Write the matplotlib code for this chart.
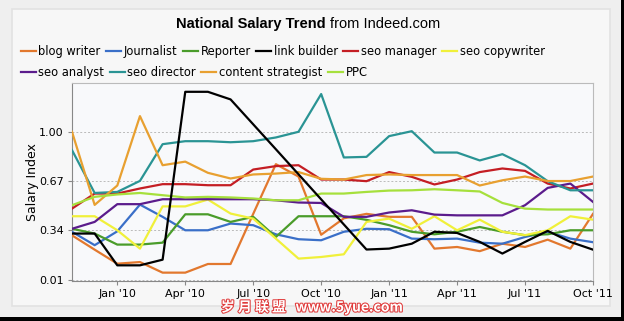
import numpy as np
import matplotlib.pyplot as plt
from matplotlib.patches import Rectangle
import matplotlib.patheffects as pe

# monthly points, Nov '09 .. Oct '11
months = ['Nov 09', 'Dec 09', 'Jan 10', 'Feb 10', 'Mar 10', 'Apr 10', 'May 10', 'Jun 10',
          'Jul 10', 'Aug 10', 'Sep 10', 'Oct 10', 'Nov 10', 'Dec 10', 'Jan 11', 'Feb 11',
          'Mar 11', 'Apr 11', 'May 11', 'Jun 11', 'Jul 11', 'Aug 11', 'Sep 11', 'Oct 11']

blog_writer = [0.306, 0.21, 0.116, 0.127, 0.056, 0.056, 0.114, 0.114, 0.45, 0.783, 0.70, 0.31,
               0.42, 0.45, 0.43, 0.43, 0.217, 0.228, 0.20, 0.25, 0.228, 0.277, 0.217, 0.45]
journalist = [0.33, 0.24, 0.333, 0.512, 0.43, 0.34, 0.34, 0.385, 0.374, 0.313, 0.28, 0.273,
              0.33, 0.35, 0.347, 0.284, 0.28, 0.284, 0.257, 0.25, 0.295, 0.33, 0.284, 0.26]
reporter = [0.35, 0.318, 0.244, 0.244, 0.257, 0.447, 0.447, 0.396, 0.43, 0.295, 0.434, 0.434,
            0.434, 0.41, 0.374, 0.33, 0.313, 0.33, 0.362, 0.33, 0.307, 0.313, 0.34, 0.34]
link_builder = [0.318, 0.318, 0.105, 0.105, 0.143, 1.268, 1.268, 1.217, 1.05, 0.883, 0.715, 0.547,
                0.379, 0.211, 0.217, 0.25, 0.33, 0.322, 0.262, 0.184, 0.262, 0.336, 0.262, 0.21]
seo_manager = [0.485, 0.586, 0.586, 0.62, 0.649, 0.649, 0.642, 0.642, 0.747, 0.77, 0.776, 0.68,
               0.68, 0.669, 0.73, 0.698, 0.647, 0.68, 0.73, 0.754, 0.738, 0.653, 0.62, 0.653]
seo_copywriter = [0.434, 0.434, 0.34, 0.217, 0.50, 0.50, 0.546, 0.452, 0.418, 0.284, 0.15, 0.161,
                  0.179, 0.396, 0.418, 0.35, 0.434, 0.34, 0.411, 0.33, 0.307, 0.34, 0.434, 0.411]
seo_analyst = [0.35, 0.396, 0.515, 0.515, 0.548, 0.548, 0.548, 0.548, 0.548, 0.541, 0.526, 0.523,
               0.43, 0.43, 0.459, 0.474, 0.445, 0.44, 0.44, 0.44, 0.508, 0.624, 0.653, 0.53]
seo_director = [0.877, 0.59, 0.597, 0.671, 0.917, 0.937, 0.937, 0.93, 0.937, 0.962, 1.00, 1.253,
                0.828, 0.832, 0.971, 1.004, 0.861, 0.861, 0.808, 0.85, 0.776, 0.669, 0.608, 0.608]
content_strategist = [1.00, 0.51, 0.64, 1.105, 0.776, 0.80, 0.725, 0.687, 0.714, 0.72, 0.73, 0.685,
                      0.68, 0.71, 0.714, 0.71, 0.71, 0.71, 0.64, 0.675, 0.70, 0.67, 0.67, 0.70]
ppc = [0.508, 0.564, 0.58, 0.59, 0.575, 0.56, 0.564, 0.56, 0.553, 0.541, 0.541, 0.586,
       0.586, 0.597, 0.606, 0.608, 0.615, 0.608, 0.6, 0.523, 0.485, 0.479, 0.479, 0.479]

series = [
    ('blog writer', blog_writer, '#e2782e'),
    ('Journalist', journalist, '#3a6fc8'),
    ('Reporter', reporter, '#4a9c2a'),
    ('link builder', link_builder, '#000000'),
    ('seo manager', seo_manager, '#c41e24'),
    ('seo copywriter', seo_copywriter, '#f0f03a'),
    ('seo analyst', seo_analyst, '#5b1c8c'),
    ('seo director', seo_director, '#2a9494'),
    ('content strategist', content_strategist, '#e8a030'),
    ('PPC', ppc, '#a6e03c'),
]

tick_pos = [2, 5, 8, 11, 14, 17, 20, 23]
tick_labels = ["Jan '10", "Apr '10", "Jul '10", "Oct '10", "Jan '11", "Apr '11", "Jul '11", "Oct '11"]
y_ticks = [0.01, 0.34, 0.67, 1.00]

plt.rcParams['font.family'] = 'DejaVu Sans'
fig = plt.figure(figsize=(6.24, 3.21), dpi=100)
fig.set_facecolor('#efefef')

# inner panel and the dark frame at the edges
fig.patches.append(Rectangle((12/624, 1-306/321), 598/624, 297/321, transform=fig.transFigure,
                             facecolor='#f7f7f7', edgecolor='#e2e2e2', lw=1.2, zorder=-2))
fig.patches.append(Rectangle((621/624, 0), 3/624, 1, transform=fig.transFigure,
                             facecolor='black', edgecolor='none', zorder=-1))
fig.patches.append(Rectangle((0, 0), 1, 4/321, transform=fig.transFigure,
                             facecolor='black', edgecolor='none', zorder=-1))

ax = fig.add_axes([72/624, 1-281/321, 521/624, 198/321])
ax.set_facecolor('#f8f9fb')
x = np.arange(len(months))
handles = []
for name, vals, col in series:
    z = 4 if name == 'link builder' else 3
    h, = ax.plot(x, vals, color=col, lw=1.6, label=name, zorder=z)
    handles.append(h)

ax.set_xlim(0, len(months) - 1)
ax.set_ylim(0.0, 1.327)
ax.set_xticks(tick_pos)
ax.set_xticklabels(tick_labels, fontsize=8)
ax.set_yticks(y_ticks)
ax.set_yticklabels(['{:.2f}'.format(v) for v in y_ticks], fontsize=8)
ax.tick_params(length=3, color='#888888', pad=3)
ax.grid(True, axis='y', ls=(0, (2, 2)), color='#bbbbbb', lw=0.7, zorder=1)
for s in ax.spines.values():
    s.set_color('#bbbbbb')
ax.spines['left'].set_color('#888888')
ax.spines['bottom'].set_color('#888888')
ax.set_ylabel('Salary Index', fontsize=9, labelpad=0)

fig.text(326/624, 1-24/321, 'National Salary Trend', fontsize=10.5, fontweight='bold',
         family='Liberation Sans', ha='right', va='center')
fig.text(330/624, 1-24/321, 'from Indeed.com', fontsize=10.5, family='Liberation Sans',
         ha='left', va='center')

leg_kw = dict(loc='upper left', frameon=False, fontsize=8.3, handlelength=1.3,
              handletextpad=0.25, columnspacing=0.45, borderaxespad=0)
fig.legend(handles=handles[:6], ncol=6, bbox_to_anchor=(16/624, 1-40/321), **leg_kw)
fig.legend(handles=handles[6:], ncol=4, bbox_to_anchor=(16/624, 1-61/321), **leg_kw)

fig.text(312/624, 1-307/321, '岁 月 联 盟   www.5yue.com', family=['Noto Sans CJK SC', 'DejaVu Sans'],
         fontsize=10, fontweight='bold', color='white', ha='center', va='center',
         path_effects=[pe.withStroke(linewidth=1.5, foreground='#e03a3a')])

fig.savefig('out.png', dpi=100)
